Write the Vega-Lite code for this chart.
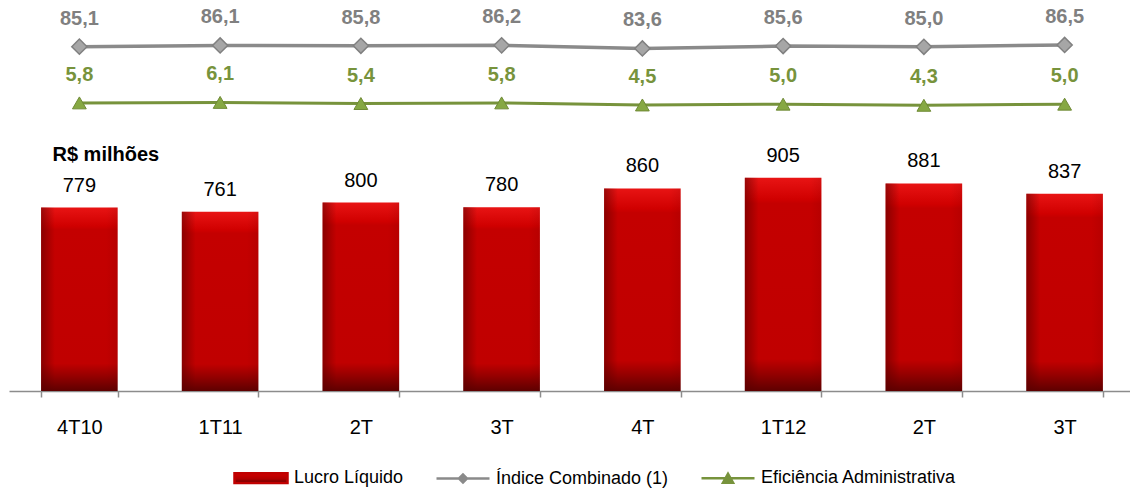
{
  "$schema": "https://vega.github.io/schema/vega-lite/v6.json",
  "width": 1121,
  "height": 391,
  "autosize": {"type": "none"},
  "padding": {"left": 9, "top": 0, "right": 0, "bottom": 97},
  "config": {
    "view": {"stroke": null},
    "font": "Liberation Sans",
    "locale": {"number": {"decimal": ",", "thousands": ".", "grouping": [3], "currency": ["R$ ", ""]}}
  },
  "data": {
    "values": [
      {"tri": "4T10", "lucro": 779, "indice": 85.1, "eficiencia": 5.8},
      {"tri": "1T11", "lucro": 761, "indice": 86.1, "eficiencia": 6.1},
      {"tri": "2T11", "lucro": 800, "indice": 85.8, "eficiencia": 5.4},
      {"tri": "3T11", "lucro": 780, "indice": 86.2, "eficiencia": 5.8},
      {"tri": "4T11", "lucro": 860, "indice": 83.6, "eficiencia": 4.5},
      {"tri": "1T12", "lucro": 905, "indice": 85.6, "eficiencia": 5.0},
      {"tri": "2T12", "lucro": 881, "indice": 85.0, "eficiencia": 4.3},
      {"tri": "3T12", "lucro": 837, "indice": 86.5, "eficiencia": 5.0}
    ]
  },
  "encoding": {
    "x": {
      "field": "tri",
      "type": "nominal",
      "sort": null,
      "scale": {"range": [0, 1126], "paddingInner": 0.456, "paddingOuter": 0.228},
      "axis": {
        "title": null,
        "domainColor": "#8c8c8c",
        "domainWidth": 1.5,
        "tickColor": "#8c8c8c",
        "tickWidth": 1.5,
        "tickSize": 6,
        "tickBand": "extent",
        "labelFontSize": 20,
        "labelColor": "#000000",
        "labelPadding": 20,
        "labelAngle": 0,
        "grid": false,
        "labelExpr": "indexof(['4T10','1T11','1T12'], datum.label) >= 0 ? datum.label : slice(datum.label, 0, 2)"
      }
    }
  },
  "layer": [
    {
      "mark": {
        "type": "bar",
        "fill": {"gradient": "linear", "x1": 0, "y1": 0, "x2": 0, "y2": 1, "stops": [
          {"offset": 0, "color": "#e81414"},
          {"offset": 0.1, "color": "#d00000"},
          {"offset": 0.12, "color": "#c40000"},
          {"offset": 0.85, "color": "#c00000"},
          {"offset": 0.92, "color": "#940000"},
          {"offset": 1, "color": "#5e0000"}
        ]}
      },
      "encoding": {
        "y": {
          "field": "lucro", "type": "quantitative",
          "scale": {"domain": [0, 1660], "nice": false},
          "axis": {
            "title": "R$ milhões", "titleAngle": 0, "titleX": 43, "titleY": 154,
            "titleAlign": "left", "titleBaseline": "middle", "titleFontSize": 20,
            "titleFontWeight": "bold", "titleColor": "#000000",
            "domain": false, "ticks": false, "labels": false, "grid": false
          }
        }
      }
    },
    {
      "mark": {
        "type": "bar",
        "fill": {"gradient": "linear", "x1": 0, "y1": 0, "x2": 1, "y2": 0, "stops": [
          {"offset": 0, "color": "rgba(90,0,0,0.55)"},
          {"offset": 0.18, "color": "rgba(90,0,0,0)"},
          {"offset": 0.85, "color": "rgba(90,0,0,0)"},
          {"offset": 1, "color": "rgba(90,0,0,0.12)"}
        ]}
      },
      "encoding": {
        "y": {"field": "lucro", "type": "quantitative", "scale": {"domain": [0, 1660], "nice": false}, "axis": null}
      }
    },
    {
      "mark": {"type": "text", "fontSize": 20, "color": "#000000", "dy": -22, "baseline": "middle"},
      "encoding": {
        "y": {"field": "lucro", "type": "quantitative", "scale": {"domain": [0, 1660], "nice": false}, "axis": null},
        "text": {"field": "lucro", "type": "quantitative", "format": "d"}
      }
    },
    {
      "mark": {"type": "line", "strokeWidth": 3.5},
      "encoding": {
        "y": {"field": "indice", "type": "quantitative", "scale": {"domain": [-202, 124], "nice": false, "zero": false}, "axis": null},
        "color": {
          "datum": "Índice Combinado (1)",
          "type": "nominal",
          "scale": {
            "domain": ["Lucro Líquido", "Índice Combinado (1)", "Eficiência Administrativa"],
            "range": ["#c00000", "#8a8a8a", "#77933c"]
          },
          "legend": {
            "title": null,
            "orient": "none",
            "legendX": 224,
            "legendY": 450,
            "direction": "horizontal",
            "symbolSize": 2809,
            "labelFontSize": 18,
            "labelColor": "#000000",
            "labelOffset": 5,
            "labelLimit": 400,
            "columnPadding": 27,
            "padding": 0,
            "encode": {
              "symbols": {
                "update": {
                  "shape": {"signal": "datum.value === 'Lucro Líquido' ? 'M-1,-0.18H1V0.18H-1Z' : (datum.value === 'Índice Combinado (1)' ? 'M-1,0H1M-0.15,0L0,-0.15L0.15,0L0,0.15Z' : 'M-1,0H1M-0.19,0.17L0,-0.17L0.19,0.17Z')"},
                  "fill": [
                    {"test": "datum.value === 'Lucro Líquido'", "value": {"gradient": "linear", "x1": 0, "y1": 0, "x2": 0, "y2": 1, "stops": [{"offset": 0, "color": "#d00000"}, {"offset": 0.6, "color": "#b00000"}, {"offset": 1, "color": "#600000"}]}},
                    {"scale": "color", "field": "value"}
                  ],
                  "stroke": [
                    {"test": "datum.value === 'Lucro Líquido'", "value": "#a00000"},
                    {"scale": "color", "field": "value"}
                  ],
                  "strokeWidth": {"value": 2.5},
                  "opacity": {"value": 1}
                }
              }
            }
          }
        }
      }
    },
    {
      "mark": {"type": "point", "shape": "diamond", "size": 230, "filled": true, "fill": "#a6a6a6", "stroke": "#808080", "strokeWidth": 1.5, "opacity": 1},
      "encoding": {
        "y": {"field": "indice", "type": "quantitative", "scale": {"domain": [-202, 124], "nice": false, "zero": false}, "axis": null}
      }
    },
    {
      "mark": {"type": "text", "fontSize": 20, "fontWeight": "bold", "color": "#808080", "dy": -28, "baseline": "middle"},
      "encoding": {
        "y": {"field": "indice", "type": "quantitative", "scale": {"domain": [-202, 124], "nice": false, "zero": false}, "axis": null},
        "text": {"field": "indice", "type": "quantitative", "format": ".1f"}
      }
    },
    {
      "mark": {"type": "line", "strokeWidth": 3},
      "encoding": {
        "y": {"field": "eficiencia", "type": "quantitative", "scale": {"domain": [-174, 70], "nice": false, "zero": false}, "axis": null},
        "color": {"datum": "Eficiência Administrativa", "type": "nominal"}
      }
    },
    {
      "mark": {"type": "point", "shape": "triangle-up", "size": 190, "filled": true, "fill": "#86a843", "stroke": "#6f8a35", "strokeWidth": 1, "opacity": 1},
      "encoding": {
        "y": {"field": "eficiencia", "type": "quantitative", "scale": {"domain": [-174, 70], "nice": false, "zero": false}, "axis": null}
      }
    },
    {
      "mark": {"type": "text", "fontSize": 20, "fontWeight": "bold", "color": "#77933c", "dy": -28, "baseline": "middle"},
      "encoding": {
        "y": {"field": "eficiencia", "type": "quantitative", "scale": {"domain": [-174, 70], "nice": false, "zero": false}, "axis": null},
        "text": {"field": "eficiencia", "type": "quantitative", "format": ".1f"}
      }
    }
  ],
  "resolve": {"scale": {"y": "independent"}}
}
